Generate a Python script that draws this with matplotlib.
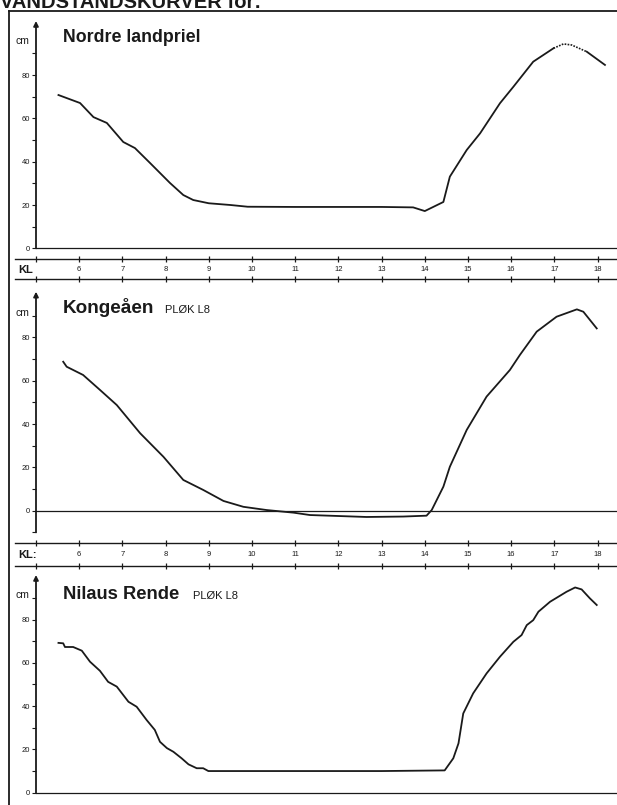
import matplotlib
matplotlib.use("Agg")
import matplotlib.pyplot as plt
from matplotlib.lines import Line2D
import numpy as np

plt.rcParams['font.family'] = ['Liberation Sans', 'DejaVu Sans']

# ---------------- data ----------------
header = "VANDSTANDSKURVER for:"
hour_labels = ["6", "7", "8", "9", "10", "11", "12", "13", "14", "15", "16", "17", "18"]
hour_ticks = [5, 6, 7, 8, 9, 10, 11, 12, 13, 14, 15, 16, 17, 18]

titles = ["Nordre landpriel", "Kongeåen", "Nilaus Rende"]
subtitles = ["", "PLØK L8", "PLØK L8"]
kl_labels = ["KL", "KL:"]

# Nordre landpriel
h1 = [5.52, 6.02, 6.33, 6.64, 7.02, 7.29, 7.64, 8.10, 8.41, 8.64, 9.0, 9.5, 9.9,
      11.0, 12.0, 13.0, 13.73, 14.0, 14.43, 14.58, 14.97, 15.28, 15.74, 16.05,
      16.51, 16.98, 17.21, 17.40, 17.75, 18.17]
v1 = [70.8, 67.1, 60.6, 57.9, 49.1, 46.3, 39.4, 30.2, 24.6, 22.3, 20.8, 20.0, 19.2,
      19.1, 19.1, 19.1, 18.9, 17.2, 21.4, 33.1, 45.4, 53.1, 67.0, 74.6,
      86.2, 92.4, 94.4, 93.9, 90.8, 84.7]

# Kongeåen
h2 = [5.63, 5.71, 6.09, 6.48, 6.87, 7.41, 7.95, 8.41, 8.87, 9.34, 9.80, 10.34,
      10.96, 11.34, 12.65, 13.5, 14.04, 14.16, 14.43, 14.58, 14.97, 15.43, 15.97,
      16.20, 16.59, 17.05, 17.52, 17.67, 17.98]
v2 = [68.8, 66.5, 62.7, 55.8, 48.8, 35.8, 24.9, 14.2, 9.6, 4.5, 1.8, 0.3,
      -0.9, -2.0, -2.9, -2.7, -2.3, 0.3, 11.1, 20.3, 37.3, 52.7, 65.0,
      71.9, 82.7, 89.6, 93.0, 91.9, 84.2]

# Nilaus Rende
h3 = [5.52, 5.63, 5.67, 5.86, 6.06, 6.25, 6.48, 6.67, 6.87, 7.14, 7.33, 7.56, 7.75,
      7.87, 8.03, 8.18, 8.37, 8.53, 8.72, 8.87, 8.99, 11.0, 13.0, 14.46, 14.66,
      14.78, 14.89, 15.12, 15.43, 15.74, 16.05, 16.24, 16.36, 16.51, 16.63, 16.90,
      17.09, 17.28, 17.48, 17.63, 17.82, 17.98]
v3 = [69.2, 69.0, 67.3, 67.3, 65.6, 60.5, 56.3, 51.2, 49.0, 42.0, 39.7, 33.6, 29.0,
      23.5, 20.6, 18.9, 15.9, 13.1, 11.3, 11.3, 10.0, 10.0, 10.0, 10.3, 15.9,
      22.8, 36.6, 45.9, 55.1, 62.8, 69.7, 72.8, 77.4, 79.7, 83.6, 88.2,
      90.5, 92.8, 94.8, 93.9, 89.8, 86.7]

# ---------------- layout (pixels) ----------------
W, H = 617, 805
X0 = 36.0        # pixel x of hour 5 (the cm axis)
PX_H = 43.2      # pixels per hour
PX_CM = 2.165    # pixels per cm

fig = plt.figure(figsize=(W / 100, H / 100), dpi=100)
fig.patch.set_facecolor('white')

INK = '#1a1a1a'


def make_panel(top_px, bottom_px, zero_px):
    ax = fig.add_axes([X0 / W, 1 - bottom_px / H, (W - X0) / W, (bottom_px - top_px) / H])
    ax.set_xlim(5, 5 + (W - X0) / PX_H)
    ax.set_ylim(-(bottom_px - zero_px) / PX_CM, (zero_px - top_px) / PX_CM)
    for s in ax.spines.values():
        s.set_visible(False)
    ax.patch.set_alpha(0)
    ax.set_xticks([])
    return ax


def cm_of(px, zero_px):
    return (zero_px - px) / PX_CM


def hour_of(px):
    return 5 + (px - X0) / PX_H


panels = [
    dict(top=11, bottom=279.3, zero=248.3, tip=21, low=0, tlow=0),
    dict(top=279.3, bottom=565.7, zero=510.7, tip=291.7, low=-10, tlow=-10),
    dict(top=565.7, bottom=805, zero=792.7, tip=575, low=0, tlow=0),
]
title_base = [42.5, 313.3, 599.3]
title_size = [12.8, 13.6, 13.2]
cm_base = [44.0, 315.5, 597.5]
sub_x = [None, 165, 193]
bands = [(259.0, 279.3, 270.0), (543.3, 565.7, 555.0), None]

series = [(h1, v1), (h2, v2), (h3, v3)]

for i, p in enumerate(panels):
    ax = make_panel(p['top'], p['bottom'], p['zero'])
    xmax = ax.get_xlim()[1]
    z = p['zero']

    # y axis with arrow
    tip = cm_of(p['tip'], z)
    ax.annotate('', xy=(5, tip), xytext=(5, p['low']),
                arrowprops=dict(arrowstyle='-|>', lw=1.3, color=INK,
                                mutation_scale=7, shrinkA=0, shrinkB=0),
                annotation_clip=False)
    ticks = list(range(p['tlow'], 91, 10))
    ax.set_yticks(ticks)
    ax.set_yticklabels([str(t) if (t % 20 == 0 and t >= 0) else '' for t in ticks])
    ax.tick_params(axis='y', direction='out', length=3, width=0.8, pad=1.5,
                   labelsize=5.5, colors=INK)

    # zero line
    ax.plot([5, xmax], [0, 0], color=INK, lw=0.9, clip_on=False)

    # cm label and title
    ax.text(hour_of(22.5), cm_of(cm_base[i], z), "cm", fontsize=7.5, ha='center',
            va='baseline', color=INK, clip_on=False)
    ax.text(hour_of(63), cm_of(title_base[i], z), titles[i], fontsize=title_size[i],
            fontweight='bold', ha='left', va='baseline', color=INK)
    if subtitles[i]:
        ax.text(hour_of(sub_x[i]), cm_of(title_base[i], z), subtitles[i], fontsize=8,
                ha='left', va='baseline', color=INK)

    # curve
    hx, vy = series[i]
    if i == 0:
        a, b = hx.index(16.98), hx.index(17.75)
        ax.plot(hx[:a + 1], vy[:a + 1], color=INK, lw=1.3, solid_joinstyle='round')
        ax.plot(hx[a:b + 1], vy[a:b + 1], color=INK, lw=1.2, ls=(0, (1, 0.8)))
        ax.plot(hx[b:], vy[b:], color=INK, lw=1.3)
    else:
        ax.plot(hx, vy, color=INK, lw=1.3, solid_joinstyle='round')

    # KL band
    if bands[i] is not None:
        y_up, y_lo, y_lab = (cm_of(bands[i][0], z), cm_of(bands[i][1], z),
                             cm_of(bands[i][2], z))
        xl = hour_of(15)
        for yy in (y_up, y_lo):
            ax.plot([xl, xmax], [yy, yy], color=INK, lw=1.0, clip_on=False)
            ax.plot(hour_ticks, [yy] * len(hour_ticks), ls='none', marker='|',
                    ms=4, mew=0.9, color=INK, clip_on=False)
        ax.text(hour_of(18), y_lab, kl_labels[i], fontsize=8, fontweight='bold',
                ha='left', va='center', color=INK, clip_on=False)
        for hv, lab in zip(hour_ticks[1:], hour_labels):
            ax.text(hv, y_lab, lab, fontsize=5.5, ha='center', va='center',
                    color=INK, clip_on=False)

# outer frame
fig.add_artist(Line2D([9 / W, 9 / W], [0, 1 - 11 / H], transform=fig.transFigure,
                      color=INK, lw=1.3))
fig.add_artist(Line2D([9 / W, 1], [1 - 11 / H, 1 - 11 / H], transform=fig.transFigure,
                      color=INK, lw=1.3))

# header (cut off at the top edge, as in the scan)
fig.text(0.0, 1 - 8 / H, header, fontsize=14.5, fontweight='bold', ha='left',
         va='baseline', color=INK)

fig.savefig("out.png", dpi=100)
